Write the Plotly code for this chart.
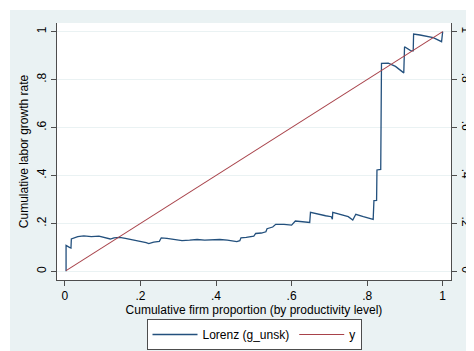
import plotly.graph_objects as go

# Lorenz curve (cumulative firm proportion vs cumulative labor growth rate)
lorenz_x = [0.003, 0.003, 0.012, 0.016, 0.017, 0.026, 0.034, 0.05, 0.07, 0.09, 0.10, 0.12, 0.13,
            0.145, 0.16, 0.18, 0.20, 0.215, 0.222, 0.235, 0.25, 0.255, 0.27, 0.29, 0.31, 0.33,
            0.35, 0.37, 0.39, 0.41, 0.43, 0.445, 0.455, 0.463, 0.466, 0.48, 0.50, 0.505, 0.52,
            0.532, 0.535, 0.55, 0.558, 0.58, 0.60, 0.61, 0.63, 0.648, 0.65, 0.67, 0.69, 0.705,
            0.708, 0.709, 0.73, 0.75, 0.762, 0.77, 0.79, 0.816, 0.818, 0.825, 0.826, 0.836,
            0.838, 0.856, 0.875, 0.897, 0.899, 0.915, 0.922, 0.923, 0.94, 0.958, 0.975, 0.997,
            1.0]
lorenz_y = [0.0, 0.108, 0.1, 0.097, 0.135, 0.14, 0.145, 0.148, 0.145, 0.147, 0.143, 0.135, 0.14,
            0.142, 0.138, 0.132, 0.125, 0.12, 0.116, 0.122, 0.125, 0.14, 0.138, 0.132, 0.128, 0.13,
            0.133, 0.13, 0.131, 0.133, 0.13, 0.127, 0.124, 0.128, 0.14, 0.142, 0.147, 0.158, 0.16,
            0.165, 0.178, 0.185, 0.196, 0.196, 0.193, 0.21, 0.207, 0.204, 0.246, 0.238, 0.232, 0.228,
            0.218, 0.246, 0.238, 0.228, 0.214, 0.238, 0.228, 0.217, 0.295, 0.296, 0.423, 0.425,
            0.868, 0.869, 0.855, 0.828, 0.937, 0.921, 0.92, 0.99, 0.986, 0.979, 0.975, 0.958,
            1.0]

# Equality line y
eq_x = [0.003, 1.0]
eq_y = [0.003, 1.0]

y_ticks = [0, 0.2, 0.4, 0.6, 0.8, 1]
y_tick_text = ["0", ".2", ".4", ".6", ".8", "1"]
x_ticks = [0, 0.2, 0.4, 0.6, 0.8, 1]
x_tick_text = ["0", ".2", ".4", ".6", ".8", "1"]

NAVY = "#23507d"
MAROON = "#a8424a"
BG = "#eaf2f3"
AXIS = "#4d4d4d"
FONT = "Liberation Sans"

fig = go.Figure()
fig.add_trace(go.Scatter(x=lorenz_x, y=lorenz_y, mode="lines", name="Lorenz (g_unsk)",
                         line=dict(color=NAVY, width=1.3), hoverinfo="skip"))
fig.add_trace(go.Scatter(x=eq_x, y=eq_y, mode="lines", name="y", yaxis="y2",
                         line=dict(color=MAROON, width=1.1), hoverinfo="skip"))

PW, PH = 394, 257
yr = [-0.036, 1.036]
fig.update_layout(
    width=466, height=343,
    margin=dict(l=49, r=23, t=15, b=71, autoexpand=False),
    paper_bgcolor=BG, plot_bgcolor="white",
    font=dict(family=FONT, size=12, color="#000"),
    xaxis=dict(range=[-0.021, 1.022], tickvals=x_ticks, ticktext=x_tick_text,
               showgrid=False, zeroline=False, showline=True, linecolor=AXIS, linewidth=1,
               ticks="outside", ticklen=5, tickcolor=AXIS, tickfont=dict(size=12),
               automargin=False,
               title=dict(text="Cumulative firm proportion (by productivity level)",
                          font=dict(size=12), standoff=3)),
    yaxis=dict(range=yr, tickvals=y_ticks, ticktext=y_tick_text, tickangle=-90,
               showgrid=True, gridcolor=BG, gridwidth=1, zeroline=False,
               showline=True, linecolor=AXIS, linewidth=1, automargin=False,
               ticks="outside", ticklen=5, tickcolor=AXIS, tickfont=dict(size=12),
               title=dict(text="Cumulative labor growth rate", font=dict(size=12), standoff=4)),
    yaxis2=dict(range=yr, tickvals=y_ticks, ticktext=y_tick_text, tickangle=90,
                overlaying="y", side="right", showgrid=False, zeroline=False,
                showline=True, linecolor=AXIS, linewidth=1, automargin=False,
                ticks="outside", ticklen=5, tickcolor=AXIS, tickfont=dict(size=12)),
    legend=dict(orientation="h", x=0.5, xanchor="center", y=-39 / PH, yanchor="top",
                bgcolor="white", bordercolor=AXIS, borderwidth=1,
                font=dict(size=12), itemwidth=45, tracegroupgap=0),
    showlegend=True,
    shapes=[
        dict(type="rect", xref="paper", yref="paper", x0=-1, x1=-47 / PW, y0=-1, y1=2,
             fillcolor="white", line=dict(width=0), layer="below"),
        dict(type="rect", xref="paper", yref="paper", x0=-1, x1=2, y0=1 + 13 / PH, y1=2,
             fillcolor="white", line=dict(width=0), layer="below"),
    ],
)

fig.write_html("out.html")
